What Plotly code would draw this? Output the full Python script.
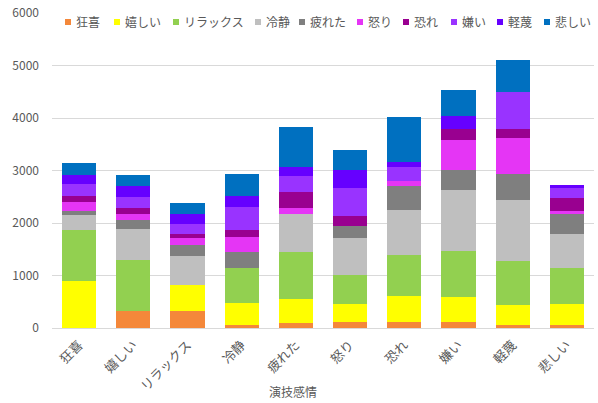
import plotly.graph_objects as go

# Acted emotion (x axis) and the emotion each sample was judged as (stack series)
categories = ["狂喜", "嬉しい", "リラックス", "冷静", "疲れた", "怒り", "恐れ", "嫌い", "軽蔑", "悲しい"]
series_names = ["狂喜", "嬉しい", "リラックス", "冷静", "疲れた", "怒り", "恐れ", "嫌い", "軽蔑", "悲しい"]

kyouki    = [0, 324, 317, 64, 96, 121, 108, 121, 51, 64]
ureshii   = [900, 0, 495, 420, 452, 338, 497, 465, 388, 388]
relax     = [960, 971, 0, 650, 904, 554, 790, 885, 841, 688]
reisei    = [286, 591, 559, 0, 726, 707, 860, 1153, 1153, 656]
tsukareta = [76, 164, 216, 312, 0, 216, 446, 382, 503, 376]
ikari     = [179, 127, 120, 293, 109, 0, 108, 580, 682, 64]
osore     = [120, 109, 76, 134, 305, 191, 0, 204, 172, 248]
kirai     = [223, 215, 204, 433, 306, 548, 267, 0, 713, 178]
keibetsu  = [164, 196, 177, 216, 178, 331, 83, 255, 0, 70]
kanashii  = [236, 210, 217, 402, 758, 376, 860, 484, 605, 0]

series_values = [kyouki, ureshii, relax, reisei, tsukareta, ikari, osore, kirai, keibetsu, kanashii]
colors = ["#F4883A", "#FFFF00", "#92D050", "#BFBFBF", "#7F7F7F",
          "#E535F5", "#990090", "#9933FF", "#6600FF", "#0070C0"]

y_ticks = [0, 1000, 2000, 3000, 4000, 5000, 6000]

W, H = 598, 403
ML, MR, MT, MB = 52, 4, 13, 75
PW, PH = W - ML - MR, H - MT - MB

def px_x(px):
    return (px - ML) / PW

def px_y(py):
    return (H - MB - py) / PH

FONT = "Noto Sans CJK JP, Noto Sans, sans-serif"
TXT = "#595959"

fig = go.Figure()
for name, vals, col in zip(series_names, series_values, colors):
    fig.add_trace(go.Bar(x=categories, y=vals, name=name,
                         marker=dict(color=col, line=dict(width=0)),
                         showlegend=False))

# Legend drawn as coloured squares with labels along the top
legend_text_x = [75, 124, 183, 265, 309, 367, 413, 461, 507, 554]
shapes = [dict(type="rect", xref="paper", yref="paper", layer="above",
               x0=px_x(57), x1=px_x(598), y0=px_y(31), y1=px_y(8),
               fillcolor="white", line=dict(width=0))]
annotations = []
for name, col, tx in zip(series_names, colors, legend_text_x):
    shapes.append(dict(type="rect", xref="paper", yref="paper", layer="above",
                       x0=px_x(tx - 10), x1=px_x(tx - 4),
                       y0=px_y(25), y1=px_y(19),
                       fillcolor=col, line=dict(width=0)))
    annotations.append(dict(text=name, xref="paper", yref="paper",
                            x=px_x(tx - 1), y=px_y(21), xanchor="left", yanchor="middle",
                            showarrow=False, font=dict(family=FONT, size=12, color=TXT)))

annotations.append(dict(text="演技感情", xref="paper", yref="paper",
                        x=px_x(293), y=px_y(391), xanchor="center", yanchor="middle",
                        showarrow=False, font=dict(family=FONT, size=12, color=TXT)))

fig.update_layout(
    width=W, height=H,
    margin=dict(l=ML, r=MR, t=MT, b=MB, pad=0),
    barmode="stack", bargap=0.37,
    plot_bgcolor="white", paper_bgcolor="white",
    font=dict(family=FONT, size=12, color=TXT),
    xaxis=dict(tickangle=-45, showline=False, ticks="", showgrid=False,
               ticklabelstandoff=6,
               tickfont=dict(family=FONT, size=13, color=TXT)),
    yaxis=dict(range=[0, 6000], tickvals=y_ticks, showgrid=True, gridcolor="#D9D9D9",
               gridwidth=1, zeroline=True, zerolinecolor="#D9D9D9", zerolinewidth=1,
               showline=False, ticks="", ticklabelstandoff=12,
               tickfont=dict(family=FONT, size=12, color=TXT)),
    shapes=shapes, annotations=annotations,
)

fig.write_html("out.html", config={"displayModeBar": False})
